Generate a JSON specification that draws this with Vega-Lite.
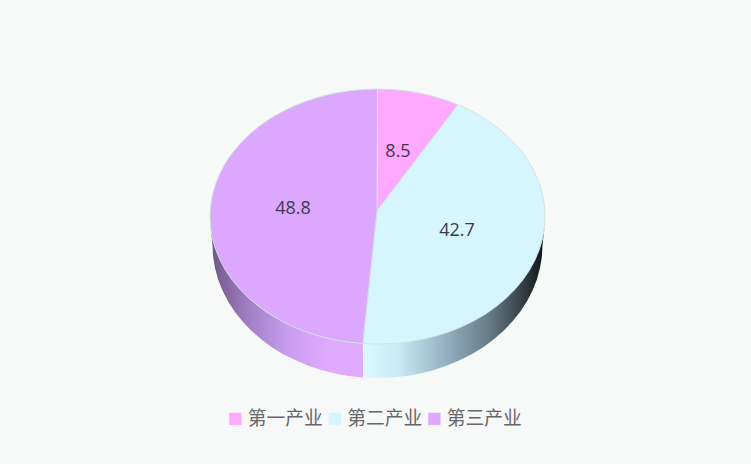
{
  "$schema": "https://vega.github.io/schema/vega-lite/v6.json",
  "width": 751,
  "height": 464,
  "autosize": "none",
  "padding": 0,
  "background": "#f7f9f8",
  "view": {"stroke": null},
  "datasets": {
    "wall3": [
      {"i":0,"x":362.9,"y":343.5},{"i":1,"x":320.2,"y":336.3},{"i":2,"x":281.4,"y":320.9},{"i":3,"x":249.2,"y":298.5},{"i":4,"x":225.7,"y":270.4},{"i":5,"x":210.6,"y":227.6},
      {"i":6,"x":212.5,"y":245},{"i":7,"x":213.1,"y":256.6},{"i":8,"x":215,"y":268},{"i":9,"x":218.1,"y":279.4},{"i":10,"x":222.5,"y":290.5},{"i":11,"x":228,"y":301.2},{"i":12,"x":234.6,"y":311.5},{"i":13,"x":242.4,"y":321.2},{"i":14,"x":251.1,"y":330.5},{"i":15,"x":260.9,"y":339.1},{"i":16,"x":271.4,"y":346.9},{"i":17,"x":282.8,"y":353.9},{"i":18,"x":295,"y":360.1},{"i":19,"x":307.8,"y":365.6},{"i":20,"x":321.1,"y":370},{"i":21,"x":334.8,"y":373.5},{"i":22,"x":348.8,"y":376},{"i":23,"x":363.1,"y":377.5},{"i":24,"x":362.9,"y":343.5}
    ],
    "wall2": [
      {"i":0,"x":362.9,"y":343.5},{"i":1,"x":406.6,"y":342.1},{"i":2,"x":448.3,"y":332.1},{"i":3,"x":485.2,"y":314.2},{"i":4,"x":514.7,"y":289.6},{"i":5,"x":534.9,"y":260.1},{"i":6,"x":544.4,"y":227.6},
      {"i":7,"x":542.5,"y":245},{"i":8,"x":541.9,"y":256.6},{"i":9,"x":540,"y":268},{"i":10,"x":536.9,"y":279.4},{"i":11,"x":532.5,"y":290.5},{"i":12,"x":527,"y":301.2},{"i":13,"x":520.4,"y":311.5},{"i":14,"x":512.6,"y":321.2},{"i":15,"x":503.9,"y":330.5},{"i":16,"x":494.1,"y":339.1},{"i":17,"x":483.6,"y":346.9},{"i":18,"x":472.2,"y":353.9},{"i":19,"x":460,"y":360.1},{"i":20,"x":447.2,"y":365.6},{"i":21,"x":433.9,"y":370},{"i":22,"x":420.2,"y":373.5},{"i":23,"x":406.2,"y":376},{"i":24,"x":391.9,"y":377.5},{"i":25,"x":377.5,"y":378},{"i":26,"x":363.1,"y":377.5},{"i":27,"x":362.9,"y":343.5}
    ],
    "top": [
      {"name":"第一产业","i":0,"x":377,"y":211},{"name":"第一产业","i":1,"x":377.5,"y":89},{"name":"第一产业","i":2,"x":392.1,"y":89.5},{"name":"第一产业","i":3,"x":406.6,"y":90.9},{"name":"第一产业","i":4,"x":420.9,"y":93.3},{"name":"第一产业","i":5,"x":434.8,"y":96.7},{"name":"第一产业","i":6,"x":448.3,"y":100.9},{"name":"第一产业","i":7,"x":458,"y":104.7},{"name":"第一产业","i":8,"x":377,"y":211},
      {"name":"第二产业","i":0,"x":377,"y":211},{"name":"第二产业","i":1,"x":458,"y":104.7},{"name":"第二产业","i":2,"x":461.25,"y":106.1},{"name":"第二产业","i":3,"x":473.6,"y":112.1},{"name":"第二产业","i":4,"x":485.2,"y":118.8},{"name":"第二产业","i":5,"x":495.9,"y":126.3},{"name":"第二产业","i":6,"x":505.8,"y":134.5},{"name":"第二产业","i":7,"x":514.7,"y":143.4},{"name":"第二产业","i":8,"x":522.6,"y":152.75},{"name":"第二产业","i":9,"x":529.3,"y":162.6},{"name":"第二产业","i":10,"x":534.9,"y":172.9},{"name":"第二产业","i":11,"x":539.3,"y":183.5},{"name":"第二产业","i":12,"x":542.5,"y":194.4},{"name":"第二产业","i":13,"x":544.4,"y":205.4},{"name":"第二产业","i":14,"x":545,"y":216.5},{"name":"第二产业","i":15,"x":544.4,"y":227.6},{"name":"第二产业","i":16,"x":542.5,"y":238.6},{"name":"第二产业","i":17,"x":539.3,"y":249.5},{"name":"第二产业","i":18,"x":534.9,"y":260.1},{"name":"第二产业","i":19,"x":529.3,"y":270.4},{"name":"第二产业","i":20,"x":522.6,"y":280.25},{"name":"第二产业","i":21,"x":514.7,"y":289.6},{"name":"第二产业","i":22,"x":505.8,"y":298.5},{"name":"第二产业","i":23,"x":495.9,"y":306.7},{"name":"第二产业","i":24,"x":485.2,"y":314.2},{"name":"第二产业","i":25,"x":473.6,"y":320.9},{"name":"第二产业","i":26,"x":461.25,"y":326.9},{"name":"第二产业","i":27,"x":448.3,"y":332.1},{"name":"第二产业","i":28,"x":434.8,"y":336.3},{"name":"第二产业","i":29,"x":420.9,"y":339.7},{"name":"第二产业","i":30,"x":406.6,"y":342.1},{"name":"第二产业","i":31,"x":392.1,"y":343.5},{"name":"第二产业","i":32,"x":377.5,"y":344},{"name":"第二产业","i":33,"x":362.9,"y":343.5},{"name":"第二产业","i":34,"x":377,"y":211},
      {"name":"第三产业","i":0,"x":377,"y":211},{"name":"第三产业","i":1,"x":362.9,"y":343.5},{"name":"第三产业","i":2,"x":348.4,"y":342.1},{"name":"第三产业","i":3,"x":334.1,"y":339.7},{"name":"第三产业","i":4,"x":320.2,"y":336.3},{"name":"第三产业","i":5,"x":306.7,"y":332.1},{"name":"第三产业","i":6,"x":293.75,"y":326.9},{"name":"第三产业","i":7,"x":281.4,"y":320.9},{"name":"第三产业","i":8,"x":269.8,"y":314.2},{"name":"第三产业","i":9,"x":259.1,"y":306.7},{"name":"第三产业","i":10,"x":249.2,"y":298.5},{"name":"第三产业","i":11,"x":240.3,"y":289.6},{"name":"第三产业","i":12,"x":232.4,"y":280.25},{"name":"第三产业","i":13,"x":225.7,"y":270.4},{"name":"第三产业","i":14,"x":220.1,"y":260.1},{"name":"第三产业","i":15,"x":215.7,"y":249.5},{"name":"第三产业","i":16,"x":212.5,"y":238.6},{"name":"第三产业","i":17,"x":210.6,"y":227.6},{"name":"第三产业","i":18,"x":210,"y":216.5},{"name":"第三产业","i":19,"x":210.6,"y":205.4},{"name":"第三产业","i":20,"x":212.5,"y":194.4},{"name":"第三产业","i":21,"x":215.7,"y":183.5},{"name":"第三产业","i":22,"x":220.1,"y":172.9},{"name":"第三产业","i":23,"x":225.7,"y":162.6},{"name":"第三产业","i":24,"x":232.4,"y":152.75},{"name":"第三产业","i":25,"x":240.3,"y":143.4},{"name":"第三产业","i":26,"x":249.2,"y":134.5},{"name":"第三产业","i":27,"x":259.1,"y":126.3},{"name":"第三产业","i":28,"x":269.8,"y":118.8},{"name":"第三产业","i":29,"x":281.4,"y":112.1},{"name":"第三产业","i":30,"x":293.75,"y":106.1},{"name":"第三产业","i":31,"x":306.7,"y":100.9},{"name":"第三产业","i":32,"x":320.2,"y":96.7},{"name":"第三产业","i":33,"x":334.1,"y":93.3},{"name":"第三产业","i":34,"x":348.4,"y":90.9},{"name":"第三产业","i":35,"x":362.9,"y":89.5},{"name":"第三产业","i":36,"x":377.5,"y":89},{"name":"第三产业","i":37,"x":377,"y":211}
    ],
    "labels": [
      {"name":"第一产业","value":8.5,"x":398,"y":152},
      {"name":"第二产业","value":42.7,"x":457,"y":231},
      {"name":"第三产业","value":48.8,"x":293,"y":209}
    ]
  },
  "layer": [
    {
      "data": {"name": "wall3"},
      "mark": {
        "type": "line",
        "strokeWidth": 0,
        "fill": {
          "gradient": "linear", "x1": 0, "x2": 1, "y1": 0, "y2": 0,
          "stops": [
            {"offset": 0, "color": "#6f5587"},
            {"offset": 0.25, "color": "#a27fc4"},
            {"offset": 0.5, "color": "#c79cf0"},
            {"offset": 0.78, "color": "#e2abff"},
            {"offset": 1, "color": "#dfa9fb"}
          ]
        }
      },
      "encoding": {
        "x": {"field": "x", "type": "quantitative", "scale": {"domain": [0, 751], "nice": false}, "axis": null},
        "y": {"field": "y", "type": "quantitative", "scale": {"domain": [464, 0], "nice": false}, "axis": null},
        "order": {"field": "i"}
      }
    },
    {
      "data": {"name": "wall2"},
      "mark": {
        "type": "line",
        "strokeWidth": 0,
        "fill": {
          "gradient": "linear", "x1": 0, "x2": 1, "y1": 0, "y2": 0,
          "stops": [
            {"offset": 0, "color": "#dcf9ff"},
            {"offset": 0.2, "color": "#c9e9f5"},
            {"offset": 0.45, "color": "#96b1c2"},
            {"offset": 0.7, "color": "#667a87"},
            {"offset": 0.88, "color": "#343f45"},
            {"offset": 1, "color": "#101416"}
          ]
        }
      },
      "encoding": {
        "x": {"field": "x", "type": "quantitative", "axis": null},
        "y": {"field": "y", "type": "quantitative", "axis": null},
        "order": {"field": "i"}
      }
    },
    {
      "data": {"name": "top"},
      "mark": {"type": "line", "stroke": "#d3e4e0", "strokeWidth": 1},
      "encoding": {
        "x": {"field": "x", "type": "quantitative", "axis": null},
        "y": {"field": "y", "type": "quantitative", "axis": null},
        "order": {"field": "i"},
        "fill": {
          "field": "name",
          "type": "nominal",
          "scale": {
            "domain": ["第一产业", "第二产业", "第三产业"],
            "range": ["#ffa8ff", "#d6f6ff", "#dca8ff"]
          },
          "legend": {
            "title": null,
            "orient": "none",
            "legendX": 226,
            "legendY": 409,
            "direction": "horizontal",
            "symbolType": "square",
            "symbolSize": 150,
            "symbolStrokeWidth": 0,
            "labelFont": "Noto Sans CJK SC",
            "labelFontSize": 18.75,
            "labelColor": "#666666",
            "labelOffset": 3,
            "columnPadding": 2.5,
            "labelLimit": 100
          }
        }
      }
    },
    {
      "data": {"name": "labels"},
      "mark": {"type": "text", "font": "Open Sans", "fontSize": 18, "color": "#3d3a4a", "baseline": "middle"},
      "encoding": {
        "x": {"field": "x", "type": "quantitative", "axis": null},
        "y": {"field": "y", "type": "quantitative", "axis": null},
        "text": {"field": "value", "type": "quantitative", "format": ".1f"}
      }
    }
  ]
}
